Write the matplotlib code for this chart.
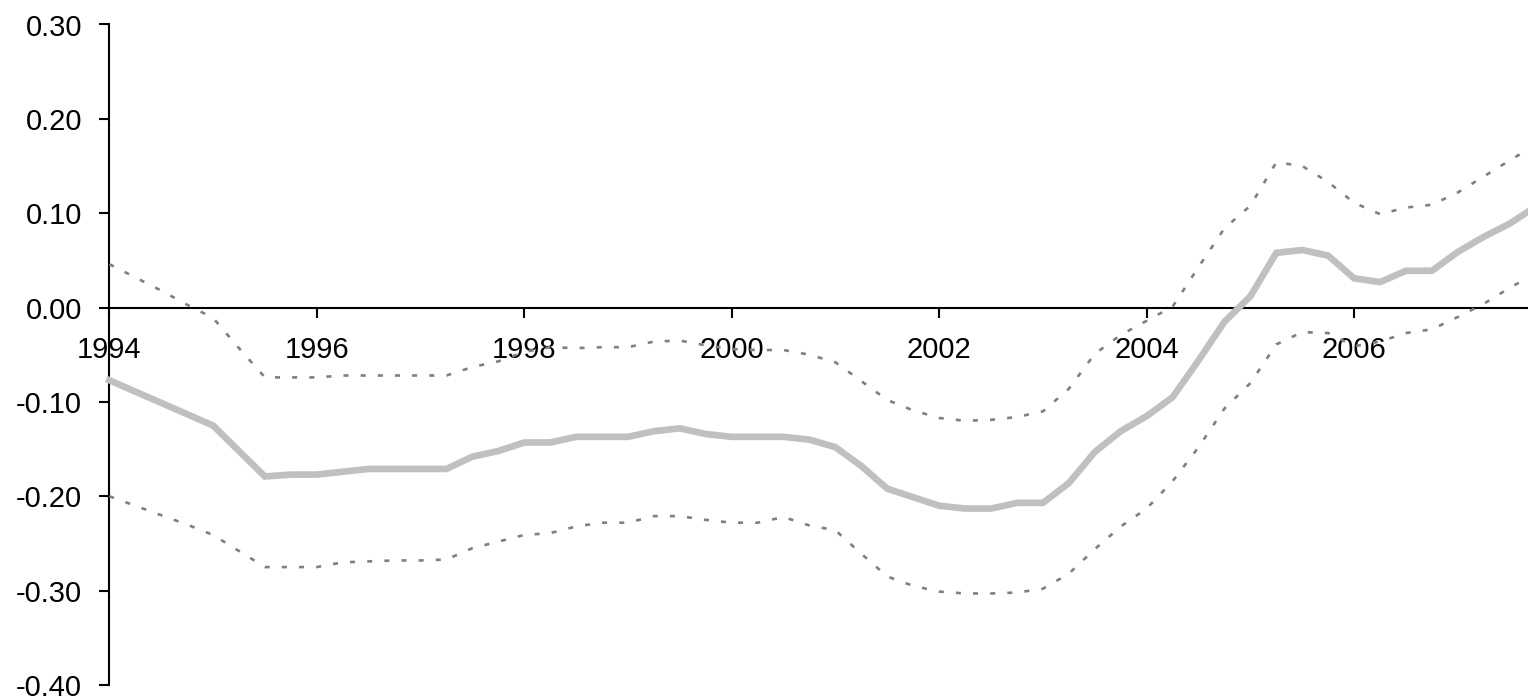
import matplotlib
matplotlib.use("Agg")
import matplotlib.pyplot as plt
import numpy as np

plt.rcParams['font.family'] = ['Liberation Sans', 'DejaVu Sans']

# Quarterly time points (decimal years), last point = Sep 2007
years = [1994.00, 1994.25, 1994.50, 1994.75,
         1995.00, 1995.25, 1995.50, 1995.75,
         1996.00, 1996.25, 1996.50, 1996.75,
         1997.00, 1997.25, 1997.50, 1997.75,
         1998.00, 1998.25, 1998.50, 1998.75,
         1999.00, 1999.25, 1999.50, 1999.75,
         2000.00, 2000.25, 2000.50, 2000.75,
         2001.00, 2001.25, 2001.50, 2001.75,
         2002.00, 2002.25, 2002.50, 2002.75,
         2003.00, 2003.25, 2003.50, 2003.75,
         2004.00, 2004.25, 2004.50, 2004.75,
         2005.00, 2005.25, 2005.50, 2005.75,
         2006.00, 2006.25, 2006.50, 2006.75,
         2007.00, 2007.25, 2007.50, 2007.6667]

estimate = [-0.077, -0.089, -0.101, -0.113,
            -0.125, -0.152, -0.179, -0.177,
            -0.177, -0.174, -0.171, -0.171,
            -0.171, -0.171, -0.158, -0.152,
            -0.143, -0.143, -0.137, -0.137,
            -0.137, -0.131, -0.128, -0.134,
            -0.137, -0.137, -0.137, -0.140,
            -0.148, -0.168, -0.192, -0.201,
            -0.210, -0.213, -0.213, -0.207,
            -0.207, -0.186, -0.153, -0.131,
            -0.115, -0.095, -0.056, -0.015,
            0.012, 0.058, 0.061, 0.055,
            0.031, 0.027, 0.039, 0.039,
            0.059, 0.075, 0.089, 0.101]

upper = [0.046, 0.032, 0.018, 0.003,
         -0.011, -0.043, -0.074, -0.074,
         -0.074, -0.072, -0.072, -0.072,
         -0.072, -0.072, -0.063, -0.057,
         -0.047, -0.042, -0.043, -0.042,
         -0.042, -0.036, -0.035, -0.040,
         -0.044, -0.045, -0.045, -0.050,
         -0.058, -0.078, -0.098, -0.109,
         -0.117, -0.120, -0.119, -0.116,
         -0.110, -0.086, -0.049, -0.029,
         -0.014, 0.001, 0.043, 0.084,
         0.108, 0.154, 0.150, 0.133,
         0.111, 0.099, 0.106, 0.109,
         0.122, 0.139, 0.156, 0.167]

lower = [-0.200, -0.210, -0.220, -0.230,
         -0.241, -0.258, -0.275, -0.275,
         -0.275, -0.270, -0.269, -0.268,
         -0.268, -0.267, -0.255, -0.248,
         -0.241, -0.239, -0.232, -0.228,
         -0.228, -0.221, -0.221, -0.225,
         -0.228, -0.228, -0.222, -0.231,
         -0.236, -0.261, -0.285, -0.295,
         -0.301, -0.303, -0.303, -0.302,
         -0.298, -0.282, -0.256, -0.232,
         -0.213, -0.184, -0.148, -0.107,
         -0.080, -0.039, -0.026, -0.027,
         -0.041, -0.036, -0.027, -0.023,
         -0.010, 0.004, 0.021, 0.031]

xticks = [1994, 1996, 1998, 2000, 2002, 2004, 2006]
yticks = [-0.40, -0.30, -0.20, -0.10, 0.00, 0.10, 0.20, 0.30]

fig = plt.figure(figsize=(15.28, 6.99), dpi=100)
top_px, bot_px = 24.5, 685.0
ax = fig.add_axes([109.3 / 1528, 1 - bot_px / 699, 1 - 109.3 / 1528, (bot_px - top_px) / 699])

dash = (0, (1.9, 4.6))
ax.plot(years, upper, color='#808080', lw=1.9, linestyle=dash, zorder=3, clip_on=False)
ax.plot(years, lower, color='#808080', lw=1.9, linestyle=dash, zorder=3, clip_on=False)
ax.plot(years, estimate, color='#C0C0C0', lw=4.8, solid_joinstyle='miter', zorder=4, clip_on=False)

ax.set_xlim(1994, 2007.676)
ax.set_ylim(-0.40, 0.30)

for s in ['top', 'right']:
    ax.spines[s].set_visible(False)
ax.spines['bottom'].set_position(('data', 0))
ax.spines['left'].set_linewidth(1.5)
ax.spines['bottom'].set_linewidth(1.5)
ax.spines['left'].set_zorder(2)
ax.spines['bottom'].set_zorder(2)

ax.set_xticks(xticks)
ax.set_xticklabels([str(x) for x in xticks])
ax.set_yticks(yticks)
ax.set_yticklabels(['%.2f' % v for v in yticks])

ax.tick_params(axis='y', direction='out', length=7.5, width=1.5, pad=12, labelsize=21)
ax.tick_params(axis='x', direction='out', length=7.5, width=1.5, pad=13, labelsize=21)
for lab in ax.get_yticklabels():
    lab.set_verticalalignment('center_baseline')

fig.savefig('out.png', dpi=100)
